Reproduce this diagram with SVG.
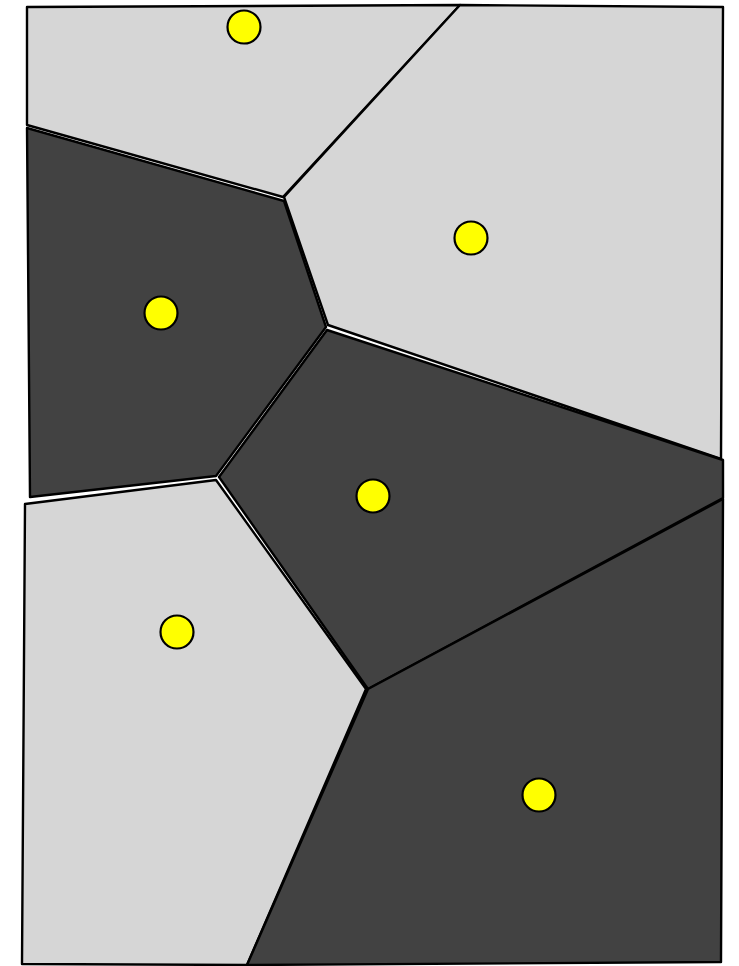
<svg xmlns="http://www.w3.org/2000/svg" width="739" height="966" viewBox="0 0 739 966">
<style>
.light{fill:#d6d6d6;stroke:#000;stroke-width:2.4;stroke-linejoin:round}
.dark{fill:#424242;stroke:#000;stroke-width:2.4;stroke-linejoin:round}
.site{fill:#ffff00;stroke:#000;stroke-width:2.2}
</style>
<rect width="739" height="966" fill="#fff"/>
<g id="cell1"><polygon class="light" points="27,7 460,5 283,197 27,125"/><circle class="site" cx="244" cy="27" r="16.5"/></g>
<g id="cell2"><polygon class="light" points="460,5 723,7 721,459 328,325 284,197"/><circle class="site" cx="471" cy="238" r="16.5"/></g>
<g id="cell3"><polygon class="dark" points="27,128 284,201 326,327 216,476 30,497"/><circle class="site" cx="161" cy="313" r="16.5"/></g>
<g id="cell4"><polygon class="dark" points="327,330 723,460 723,498 368,689 219,477"/><circle class="site" cx="373" cy="496" r="16.5"/></g>
<g id="cell5"><polygon class="light" points="25,504 216,480 366,689 247,965 22,964"/><circle class="site" cx="177" cy="632" r="16.5"/></g>
<g id="cell6"><polygon class="dark" points="368,689 723,499 721,962 247,965"/><circle class="site" cx="539" cy="795" r="16.5"/></g>
<g id="connectors"></g>
</svg>
